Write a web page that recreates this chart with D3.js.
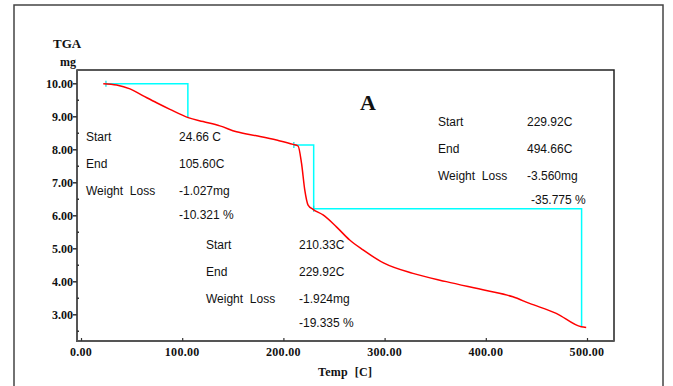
<!DOCTYPE html>
<html><head><meta charset="utf-8">
<script src="https://cdn.jsdelivr.net/npm/d3@7"></script>
<style>html,body{margin:0;padding:0;background:#fff;}svg{display:block;} text{white-space:pre;}</style>
</head><body>
<script>
// ---- data ----
const tempC = [22, 35.2, 48.4, 61.5, 74.7, 87.9, 105.9, 120.7, 137.2, 153.7, 173.4, 193.2, 209.6, 214.5, 217.9, 221.1, 224.4, 229.3, 239.2, 252.4, 265.5, 278.7, 299.4, 328, 361, 400.5, 426.8, 443.2, 469.6, 494.3, 499.2];
const massMg = [9.99, 9.95, 9.83, 9.62, 9.41, 9.21, 8.96, 8.84, 8.71, 8.53, 8.41, 8.28, 8.15, 8.10, 7.58, 6.77, 6.31, 6.18, 6.01, 5.65, 5.25, 4.95, 4.55, 4.24, 3.99, 3.72, 3.53, 3.33, 3.03, 2.62, 2.60];
const stepStart = [24.66, 210.33, 229.92];
const stepEnd = [105.60, 229.92, 494.66];
const stepTop = [9.99, 8.13, 6.20];
const stepBottom = [8.96, 6.20, 2.64];
const stepLossMg = ["-1.027mg", "-1.924mg", "-3.560mg"];
const stepLossPct = ["-10.321 %", "-19.335 %", "-35.775 %"];
const stepStartLabel = ["24.66 C", "210.33C", "229.92C"];
const stepEndLabel = ["105.60C", "229.92C", "494.66C"];
const xTicks = [0, 100, 200, 300, 400, 500];
const yTicks = [3, 4, 5, 6, 7, 8, 9, 10];
const yMinor = [2.5, 3.5, 4.5, 5.5, 6.5, 7.5, 8.5, 9.5];

const W = 673, H = 386;
const svg = d3.select("body").append("svg").attr("width", W).attr("height", H);

const x = d3.scaleLinear().domain([0, 500]).range([81, 587]);
const y = d3.scaleLinear().domain([3, 10]).range([314.3, 83.3]);
const plotL = 77, plotR = 614, plotT = 70, plotB = 341;

// outer frame
svg.append("rect").attr("x", 14).attr("y", 5).attr("width", 649).attr("height", 400)
  .attr("fill", "none").attr("stroke", "#444").attr("stroke-width", 1.5);

// plot frame
svg.append("rect").attr("x", plotL).attr("y", plotT).attr("width", plotR - plotL).attr("height", plotB - plotT)
  .attr("fill", "none").attr("stroke", "#222").attr("stroke-width", 1.5);
svg.append("line").attr("x1", plotL).attr("x2", plotL).attr("y1", plotT).attr("y2", plotB + 1)
  .attr("stroke", "#555").attr("stroke-width", 2);
svg.append("line").attr("x1", plotL).attr("x2", plotR).attr("y1", plotB).attr("y2", plotB)
  .attr("stroke", "#555").attr("stroke-width", 2);

const tickFont = "'Liberation Serif','Times New Roman',serif";
const fmt = d3.format(".2f");

// y axis
const yAxis = d3.axisLeft(y).tickValues(yTicks).tickSize(4).tickPadding(0).tickFormat(fmt);
const gy = svg.append("g").attr("transform", `translate(${plotL},0)`).call(yAxis);
gy.select(".domain").remove();
gy.selectAll("line").attr("stroke", "#333").attr("stroke-width", 1.5);
gy.selectAll("text").attr("font-family", tickFont).attr("font-weight", "bold")
  .attr("font-size", 12).attr("fill", "#111");
const yMin = d3.axisRight(y).tickValues(yMinor).tickSize(2).tickFormat("");
const gym = svg.append("g").attr("transform", `translate(${plotL},0)`).call(yMin);
gym.select(".domain").remove();
gym.selectAll("line").attr("stroke", "#333").attr("stroke-width", 1.5);

// x axis
const xAxis = d3.axisTop(x).tickValues(xTicks).tickSize(3).tickFormat("");
const gx = svg.append("g").attr("transform", `translate(0,${plotB})`).call(xAxis);
gx.select(".domain").remove();
gx.selectAll("line").attr("stroke", "#333").attr("stroke-width", 1.2);
svg.append("g").selectAll("text").data(xTicks).join("text")
  .attr("x", d => x(d)).attr("y", 356).attr("text-anchor", "middle")
  .attr("font-family", tickFont).attr("font-weight", "bold").attr("font-size", 12)
  .attr("letter-spacing", 0.3).attr("fill", "#111").text(d => fmt(d));

// axis titles
svg.append("text").attr("x", 53).attr("y", 48).attr("font-family", tickFont).attr("font-weight", "bold")
  .attr("font-size", 13).attr("fill", "#111").text("TGA");
svg.append("text").attr("x", 68).attr("y", 66).attr("text-anchor", "middle").attr("font-family", tickFont)
  .attr("font-weight", "bold").attr("font-size", 12).attr("fill", "#111").text("mg");
svg.append("text").attr("x", 318).attr("y", 376).attr("font-family", tickFont).attr("font-weight", "bold")
  .attr("font-size", 12).attr("letter-spacing", 0.3).attr("fill", "#111").text("Temp  [C]");
svg.append("text").attr("x", 360).attr("y", 110).attr("font-family", tickFont).attr("font-weight", "bold")
  .attr("font-size", 22).attr("fill", "#111").text("A");

// step lines (cyan)
const stepG = svg.append("g");
stepStart.forEach((s, i) => {
  const pts = [[x(s), y(stepTop[i])], [x(stepEnd[i]), y(stepTop[i])], [x(stepEnd[i]), y(stepBottom[i])]];
  stepG.append("path").attr("d", d3.line()(pts)).attr("fill", "none")
    .attr("stroke", "#00ffff").attr("stroke-width", 1.5);
  stepG.append("line").attr("x1", x(s)).attr("x2", x(s)).attr("y1", y(stepTop[i]) - 3).attr("y2", y(stepTop[i]) + 3)
    .attr("stroke", "#00e0e0").attr("stroke-width", 1.2);
});

// TGA curve (red)
const line = d3.line().x((d, i) => x(tempC[i])).y((d, i) => y(massMg[i])).curve(d3.curveMonotoneX);
svg.append("path").datum(massMg).attr("d", line).attr("fill", "none")
  .attr("stroke", "#ff0000").attr("stroke-width", 1.5);

// annotation blocks
const txtFont = "'Liberation Sans',Arial,sans-serif";
const blocks = [
  {lx: 86, vx: 179, y0: 141, pctX: 179},
  {lx: 206, vx: 299, y0: 249, pctX: 299},
  {lx: 438, vx: 527, y0: 126, pctX: 531}
];
const ag = svg.append("g").attr("font-family", txtFont).attr("font-size", 12).attr("fill", "#111");
blocks.forEach((b, i) => {
  const dy = 27;
  ag.append("text").attr("x", b.lx).attr("y", b.y0).text("Start");
  ag.append("text").attr("x", b.vx).attr("y", b.y0).text(stepStartLabel[i]);
  ag.append("text").attr("x", b.lx).attr("y", b.y0 + dy).text("End");
  ag.append("text").attr("x", b.vx).attr("y", b.y0 + dy).text(stepEndLabel[i]);
  ag.append("text").attr("x", b.lx).attr("y", b.y0 + 2 * dy).text("Weight  Loss");
  ag.append("text").attr("x", b.vx).attr("y", b.y0 + 2 * dy).text(stepLossMg[i]);
  ag.append("text").attr("x", b.pctX).attr("y", b.y0 + 2 * dy + 24).text(stepLossPct[i]);
});
</script>
</body></html>
